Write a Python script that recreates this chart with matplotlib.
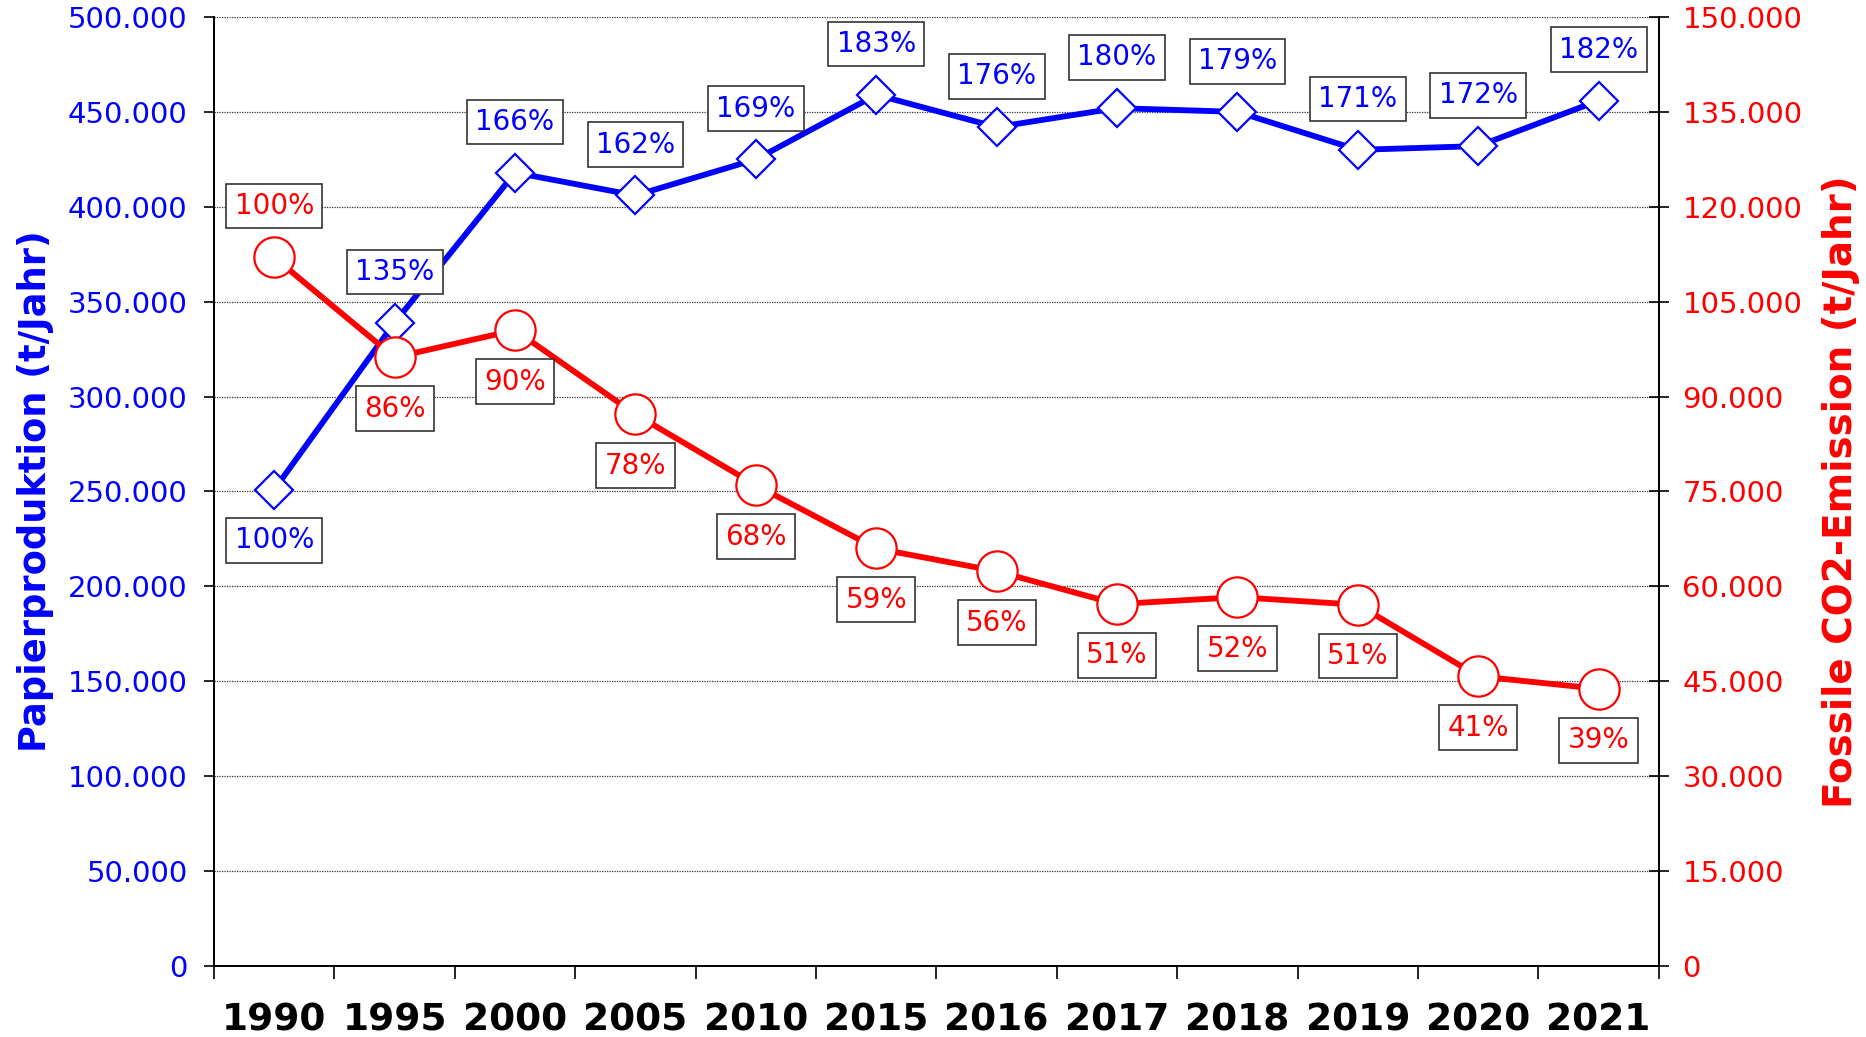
import matplotlib.pyplot as plt
from matplotlib.ticker import FuncFormatter, MultipleLocator

years = ['1990', '1995', '2000', '2005', '2010', '2015', '2016', '2017', '2018', '2019', '2020', '2021']
papier = [251000, 339000, 418000, 406000, 425000, 459000, 442000, 452000, 450000, 430000, 432000, 456000]
papier_pct = ['100%', '135%', '166%', '162%', '169%', '183%', '176%', '180%', '179%', '171%', '172%', '182%']
co2 = [112000, 96200, 100500, 87200, 76000, 66000, 62400, 57200, 58300, 57100, 45800, 43800]
co2_pct = ['100%', '86%', '90%', '78%', '68%', '59%', '56%', '51%', '52%', '51%', '41%', '39%']

BLUE = '#0000FF'
RED = '#FF0000'

plt.rcParams['font.family'] = 'DejaVu Sans'

fig = plt.figure(figsize=(18.66, 10.37), dpi=100)
ax = fig.add_axes([0.1147, 0.0685, 0.889 - 0.1147, 0.9836 - 0.0685])
ax2 = ax.twinx()

x = list(range(len(years)))

ax.plot(x, papier, color=BLUE, lw=4.2, marker='D', ms=19, mfc='white', mec=BLUE, mew=1.6, zorder=3)
ax2.plot(x, co2, color=RED, lw=4.2, marker='o', ms=29, mfc='white', mec=RED, mew=1.6, zorder=3)

ax.set_xlim(-0.5, len(years) - 0.5)
ax.set_ylim(0, 500000)
ax2.set_ylim(0, 150000)
ax.yaxis.set_major_locator(MultipleLocator(50000))
ax2.yaxis.set_major_locator(MultipleLocator(15000))

fmt = FuncFormatter(lambda v, p: f'{int(v):,}'.replace(',', '.'))
ax.yaxis.set_major_formatter(fmt)
ax2.yaxis.set_major_formatter(fmt)

ax.set_xticks(x)
ax.set_xticklabels(years, fontsize=27, fontweight='bold')
ax.set_xticks([i - 0.5 for i in range(len(years) + 1)], minor=True)
ax.tick_params(axis='x', which='major', length=0, pad=26)
ax.tick_params(axis='x', which='minor', length=9, width=1.2, direction='out')

ax.tick_params(axis='y', labelsize=21, labelcolor=BLUE, length=7, width=1.2, direction='out', pad=12)
ax2.tick_params(axis='y', labelsize=21, labelcolor=RED, length=14, width=1.2, direction='inout', pad=10)

ax.grid(axis='y', linestyle=(0, (1, 1)), color='#333333', lw=0.9)
ax.set_axisbelow(True)

for a in (ax, ax2):
    a.spines['top'].set_visible(False)
    for s in ['left', 'right', 'bottom']:
        a.spines[s].set_linewidth(1.3)

ax.set_ylabel('Papierproduktion (t/Jahr)', fontsize=26.5, fontweight='bold', color=BLUE, labelpad=10)
ax2.set_ylabel('Fossile CO2-Emission (t/Jahr)', fontsize=28, fontweight='bold', color=RED, labelpad=14)

box = dict(boxstyle='square,pad=0.3', fc='white', ec='#333333', lw=1.2)
for i, (v, t) in enumerate(zip(papier, papier_pct)):
    dy = -36.5 if i == 0 else 36.5
    ax2.annotate(t, xy=(i, v), xycoords=ax.transData, xytext=(0, dy), textcoords='offset points',
                 ha='center', va='center', fontsize=20, color=BLUE, bbox=box, zorder=10)
for i, (v, t) in enumerate(zip(co2, co2_pct)):
    dy = 37 if i == 0 else -37
    ax2.annotate(t, xy=(i, v), xytext=(0, dy), textcoords='offset points',
                 ha='center', va='center', fontsize=20, color=RED, bbox=box, zorder=10)

fig.savefig('out.png', dpi=100)
